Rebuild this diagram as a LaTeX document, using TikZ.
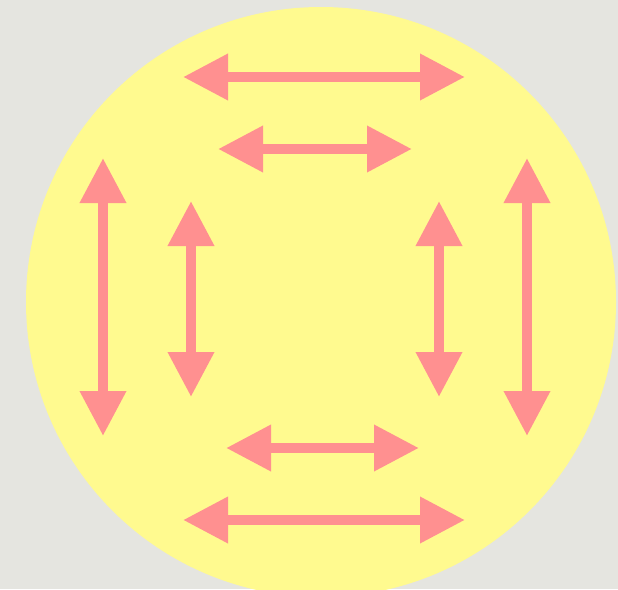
\documentclass[tikz,border=0pt]{standalone}
\usetikzlibrary{arrows.meta}
\definecolor{bg}{HTML}{E5E5E0}
\definecolor{disc}{HTML}{FFFA8F}
\definecolor{pinkarrow}{HTML}{FF9090}
\tikzset{
  dbl/.style={draw=pinkarrow, line width=10pt,
    {Triangle[length=45pt,width=44pt]}-{Triangle[length=45pt,width=44pt]}}
}
\begin{document}
\begin{tikzpicture}[x=1pt,y=-1pt]
\fill[bg] (0,0) rectangle (618,589);
\useasboundingbox (0,0) rectangle (618,589);
\begin{scope}
\clip (0,0) rectangle (618,589);
\fill[disc] (321,302) circle (295);
\end{scope}
% horizontal
\coordinate (t1l) at (183,77);  \coordinate (t1r) at (465,77);
\coordinate (t2l) at (218,149); \coordinate (t2r) at (412,149);
\coordinate (b2l) at (226,448); \coordinate (b2r) at (419,448);
\coordinate (b1l) at (183,520); \coordinate (b1r) at (465,520);
% vertical
\coordinate (l1t) at (103,158); \coordinate (l1b) at (103,436);
\coordinate (l2t) at (191,201); \coordinate (l2b) at (191,397);
\coordinate (r2t) at (439,201); \coordinate (r2b) at (439,397);
\coordinate (r1t) at (527,158); \coordinate (r1b) at (527,436);
\draw[dbl] (t1l) -- (t1r);
\draw[dbl] (t2l) -- (t2r);
\draw[dbl] (b2l) -- (b2r);
\draw[dbl] (b1l) -- (b1r);
\draw[dbl] (l1t) -- (l1b);
\draw[dbl] (l2t) -- (l2b);
\draw[dbl] (r2t) -- (r2b);
\draw[dbl] (r1t) -- (r1b);
\end{tikzpicture}
\end{document}
